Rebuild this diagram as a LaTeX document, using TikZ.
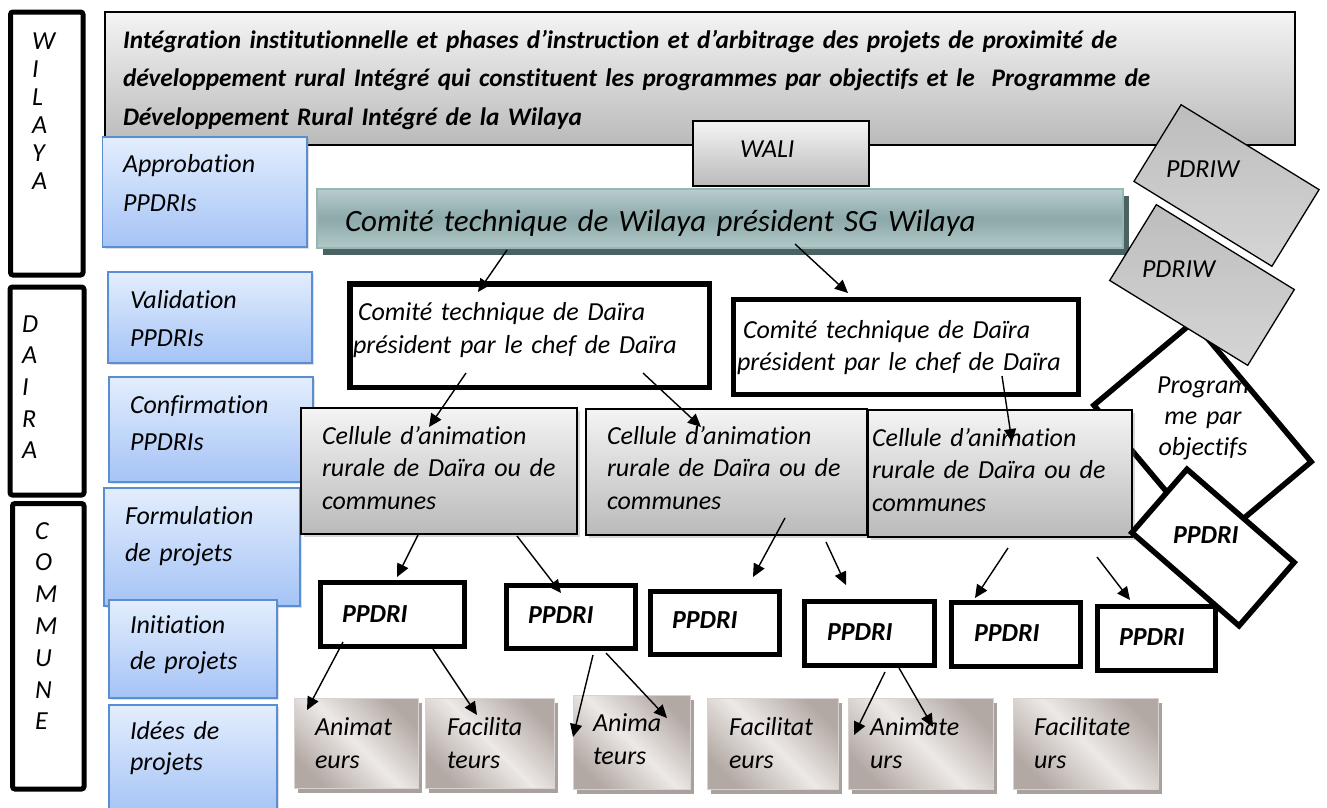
\documentclass[tikz,border=0pt]{standalone}
\usepackage{fontspec}
\setmainfont{Carlito}[Ligatures={NoCommon}]
\usetikzlibrary{arrows.meta,shadows,calc}

\newcommand\setfs[2]{\fontsize{#1}{#2}\selectfont}

\definecolor{bluetop}{HTML}{E3EEFD}
\definecolor{bluebot}{HTML}{A5C3F6}
\definecolor{blueline}{HTML}{5A8ED3}
\definecolor{greytop}{HTML}{F4F4F4}
\definecolor{greybot}{HTML}{BABABA}
\definecolor{tealtop}{HTML}{B8CDCE}
\definecolor{tealmid}{HTML}{8CA8A9}
\definecolor{tealbot}{HTML}{B3C9C9}
\definecolor{tealline}{HTML}{97B5B5}
\definecolor{tealshadow}{HTML}{4B6262}
\definecolor{taupe}{HTML}{B3A9A4}
\definecolor{taupelight}{HTML}{EDE9E7}
\definecolor{taupeline}{HTML}{D8D3D0}
\definecolor{taupeshadow}{HTML}{A8A19D}
\definecolor{pdrtop}{HTML}{BDBDBD}
\definecolor{pdrbot}{HTML}{D5D5D5}

\begin{document}
\begin{tikzpicture}[x=1pt, y=-1pt,
  box/.style={anchor=north west, inner sep=0pt, outer sep=0pt},
  labelcol/.style={box, draw=black, line width=5pt, rounded corners=2.5pt},
  bluebox/.style={box, draw=blueline, line width=1.6pt, top color=bluetop, bottom color=bluebot,
    drop shadow={shadow xshift=2pt, shadow yshift=-2pt, opacity=0.25}},
  greybox/.style={box, draw=black, line width=1.6pt, top color=greytop, bottom color=greybot},
  cellbox/.style={greybox, drop shadow={shadow xshift=2.5pt, shadow yshift=-2.5pt, opacity=0.3}},
  tealbox/.style={box, draw=tealline, line width=2.5pt, top color=tealtop, bottom color=tealbot, middle color=tealmid,
    drop shadow={shadow xshift=6pt, shadow yshift=-7pt, fill=tealshadow, opacity=1}},
  daibox/.style={box, draw=black, line width=5.5pt, fill=white},
  ppdribox/.style={box, draw=black, line width=5pt, fill=white},
  agentbox/.style={box, draw=taupeline, line width=1pt, top color=taupe, bottom color=taupe, middle color=taupelight,
    shading angle=-45, drop shadow={shadow xshift=4pt, shadow yshift=-5pt, fill=taupeshadow, opacity=1}},
  rotbox/.style={inner sep=0pt, outer sep=0pt, draw=black, line width=1.3pt, top color=pdrtop, bottom color=pdrbot},
  diamondbox/.style={inner sep=0pt, outer sep=0pt, draw=black, line width=5.5pt, fill=white},
  txt/.style={anchor=base west, inner sep=0pt, outer sep=0pt, align=left, text width=#1},
  txt/.default=300pt,
  it/.style={font=\itshape\setfs{26}{#1}},
  it/.default=32.5,
  bit/.style={font=\bfseries\itshape\setfs{26}{30}},
  arr/.style={-{Triangle[length=13pt,width=12pt]}, line width=1.4pt}
]
\path[use as bounding box, fill=white] (0,0) rectangle (1327,807);

% level columns
\node[labelcol, minimum width=72.5pt, minimum height=263pt] (wilaya) at (10.5,12) {};
\node[labelcol, minimum width=74pt, minimum height=208pt] (daira) at (10,287) {};
\node[labelcol, minimum width=71.5pt, minimum height=285.5pt] (commune) at (12.5,503.5) {};
\node[txt=40pt, it=28] (wilayaT) at (32,49) {W\\I\\L\\A\\Y\\A};
\node[txt=40pt, it=31.7] (dairaT) at (22,332) {D\\A\\I\\R\\A};
\node[txt=40pt, it=31.8] (communeT) at (35,539) {C\\O\\M\\M\\U\\N\\E};

% heading band
\node[greybox, minimum width=1190pt, minimum height=133pt] (title) at (105,12) {};
\node[txt=1200pt, font=\bfseries\itshape\setfs{25.3}{38.5}] (titleT) at (123,48)
  {Intégration institutionnelle et phases d’instruction et d’arbitrage des projets de proximité de\\
   développement rural Intégré qui constituent les programmes par objectifs et le~ Programme de\\
   Développement Rural Intégré de la Wilaya};

% wali
\node[greybox, minimum width=176pt, minimum height=65pt] (wali) at (693,121) {};
\node[txt=100pt, it] (waliT) at (740,157) {WALI};

% phases column
\node[bluebox, minimum width=204.5pt, minimum height=110pt] (appro) at (102.5,137) {};
\node[txt=180pt, it=39] (approT) at (123,172) {Approbation\\PPDRIs};
\node[bluebox, minimum width=204pt, minimum height=91pt] (valid) at (108,272) {};
\node[txt=180pt, it=38] (validT) at (130,308) {Validation\\PPDRIs};
\node[bluebox, minimum width=204pt, minimum height=105pt] (confi) at (109,377) {};
\node[txt=180pt, it=37] (confiT) at (130,413) {Confirmation\\PPDRIs};
\node[bluebox, minimum width=196pt, minimum height=118pt] (formu) at (104,488) {};
\node[txt=180pt, it=37] (formuT) at (125,524) {Formulation\\de projets};
\node[bluebox, minimum width=168pt, minimum height=98pt] (initi) at (109,600) {};
\node[txt=160pt, it=36] (initiT) at (130,633) {Initiation\\de projets};
\node[bluebox, minimum width=168pt, minimum height=110pt] (idees) at (109,705) {};
\node[txt=160pt, it=31] (ideesT) at (130,739) {Idées de\\projets};

% wilaya technical committee
\node[tealbox, minimum width=806pt, minimum height=59pt] (ctw) at (317,189) {};
\node[txt=800pt, font=\itshape\setfs{31}{36}] (ctwT) at (345,231) {Comité technique de Wilaya président SG Wilaya};

% programme par objectifs
\node[diamondbox, minimum width=183pt, minimum height=130pt, rotate=-50] (prog) at (1202.5,433.5) {};
\node[anchor=base, align=center, text width=130pt, inner sep=0pt, it=31] (progT) at (1203,393) {Program\\me par\\objectifs};

% daira committees
\node[daibox, minimum width=359.5pt, minimum height=103.5pt] (dl) at (350,284) {};
\node[txt=350pt, it=33] (dlT) at (353,320) {\hspace*{5pt}Comité technique de Daïra\\président par le chef de Daïra};
\node[daibox, minimum width=345pt, minimum height=95pt] (dr) at (733.5,299.5) {};
\node[txt=340pt, it=32] (drT) at (737,338) {\hspace*{6pt}Comité technique de Daïra\\président par le chef de Daïra};

% animation cells
\node[cellbox, minimum width=276pt, minimum height=126pt] (c1) at (301,408) {};
\node[txt=260pt, it] (c1T) at (322,444) {Cellule d’animation\\rurale de Daïra ou de\\communes};
\node[cellbox, minimum width=281pt, minimum height=126pt] (c2) at (586,409) {};
\node[txt=260pt, it] (c2T) at (607,444) {Cellule d’animation\\rurale de Daïra ou de\\communes};
\node[cellbox, minimum width=264pt, minimum height=127pt] (c3) at (868,410) {};
\node[txt=260pt, it] (c3T) at (872,446) {Cellule d’animation\\rurale de Daïra ou de\\communes};

% PPDRI diamond
\node[diamondbox, minimum width=142pt, minimum height=84pt, rotate=-41] (ppdriD) at (1213,547.5) {};
\node[txt=90pt, bit] (ppdriDT) at (1173,543) {PPDRI};

% PDRIW
\node[rotbox, minimum width=162pt, minimum height=90pt, rotate=-31.6] (pdriwA) at (1226.5,185.5) {};
\node[txt=90pt, it] (pdriwAT) at (1166,177) {PDRIW};
\node[rotbox, minimum width=162pt, minimum height=89pt, rotate=-31.6] (pdriwB) at (1202,285) {};
\node[txt=90pt, it] (pdriwBT) at (1142,277) {PDRIW};

% PPDRI boxes
\node[ppdribox, minimum width=143.5pt, minimum height=63.5pt] (p1) at (320.5,582.5) {};
\node[txt=100pt, bit] (p1T) at (342,622) {PPDRI};
\node[ppdribox, minimum width=129pt, minimum height=63pt] (p2) at (506.5,585.5) {};
\node[txt=100pt, bit] (p2T) at (528,623) {PPDRI};
\node[ppdribox, minimum width=129pt, minimum height=63pt] (p3) at (650.5,591.5) {};
\node[txt=100pt, bit] (p3T) at (672,628) {PPDRI};
\node[ppdribox, minimum width=130pt, minimum height=64pt] (p4) at (804.5,601.5) {};
\node[txt=100pt, bit] (p4T) at (827,640) {PPDRI};
\node[ppdribox, minimum width=129pt, minimum height=64pt] (p5) at (951.5,602.5) {};
\node[txt=100pt, bit] (p5T) at (974,641) {PPDRI};
\node[ppdribox, minimum width=118pt, minimum height=64pt] (p6) at (1097.5,606.5) {};
\node[txt=100pt, bit] (p6T) at (1119,645) {PPDRI};

% animators and facilitators
\node[agentbox, minimum width=124pt, minimum height=90pt] (b1) at (294,698) {};
\node[txt=120pt, it=33] (b1T) at (315,735) {Animat\\eurs};
\node[agentbox, minimum width=129pt, minimum height=90pt] (b2) at (425,698) {};
\node[txt=120pt, it=33] (b2T) at (447,735) {Facilita\\teurs};
\node[agentbox, minimum width=117pt, minimum height=94pt] (b3) at (573,695) {};
\node[txt=120pt, it=33] (b3T) at (593,731) {Anima\\teurs};
\node[agentbox, minimum width=131pt, minimum height=91pt] (b4) at (707,698) {};
\node[txt=120pt, it=33] (b4T) at (729,735) {Facilitat\\eurs};
\node[agentbox, minimum width=145pt, minimum height=91pt] (b5) at (848,698) {};
\node[txt=130pt, it=33] (b5T) at (870,735) {Animate\\urs};
\node[agentbox, minimum width=145pt, minimum height=91pt] (b6) at (1013,698) {};
\node[txt=130pt, it=33] (b6T) at (1034,735) {Facilitate\\urs};

% connectors
\draw[arr] ($(ctw.north west)+(190,61)$) -- ($(dl.north west)+(128,8)$);
\draw[arr] ($(ctw.north west)+(478,55)$) -- ($(dr.north west)+(114.5,-6.5)$);
\draw[arr] ($(dl.north west)+(116,89)$) -- ($(c1.north west)+(128,19)$);
\draw[arr] ($(dl.north west)+(293,89)$) -- ($(c2.north west)+(115,18)$);
\draw[arr] ($(dr.north west)+(268.5,76.5)$) -- ($(c3.north west)+(144,32)$);
\draw[arr] ($(c1.north west)+(117,127)$) -- ($(p1.north west)+(76.5,-5.5)$);
\draw[arr] ($(c1.north west)+(216,128)$) -- ($(p2.north west)+(54.5,7.5)$);
\draw[arr] ($(c2.north west)+(199,109)$) -- ($(p3.north west)+(102.5,-14.5)$);
\draw[arr] ($(c2.north west)+(240,133)$) -- ($(p4.north west)+(41.5,-16.5)$);
\draw[arr] ($(c3.north west)+(140,138)$) -- ($(p5.north west)+(23.5,-4.5)$);
\draw[arr] ($(c3.north west)+(229,147)$) -- ($(p6.north west)+(32.5,-6.5)$);
\draw[arr] ($(p1.north west)+(22.5,59.5)$) -- ($(b1.north west)+(13,12)$);
\draw[arr] ($(p1.north west)+(112.5,66.5)$) -- ($(b2.north west)+(52,17)$);
\draw[arr] ($(p2.north west)+(86.5,69.5)$) -- ($(b3.north west)+(0,42)$);
\draw[arr] ($(p2.north west)+(99.5,67.5)$) -- ($(b3.north west)+(94,23)$);
\draw[arr] ($(p4.north west)+(80.5,70.5)$) -- ($(b5.north west)+(6,37)$);
\draw[arr] ($(p4.north west)+(94.5,66.5)$) -- ($(b5.north west)+(85,29)$);
\end{tikzpicture}
\end{document}
